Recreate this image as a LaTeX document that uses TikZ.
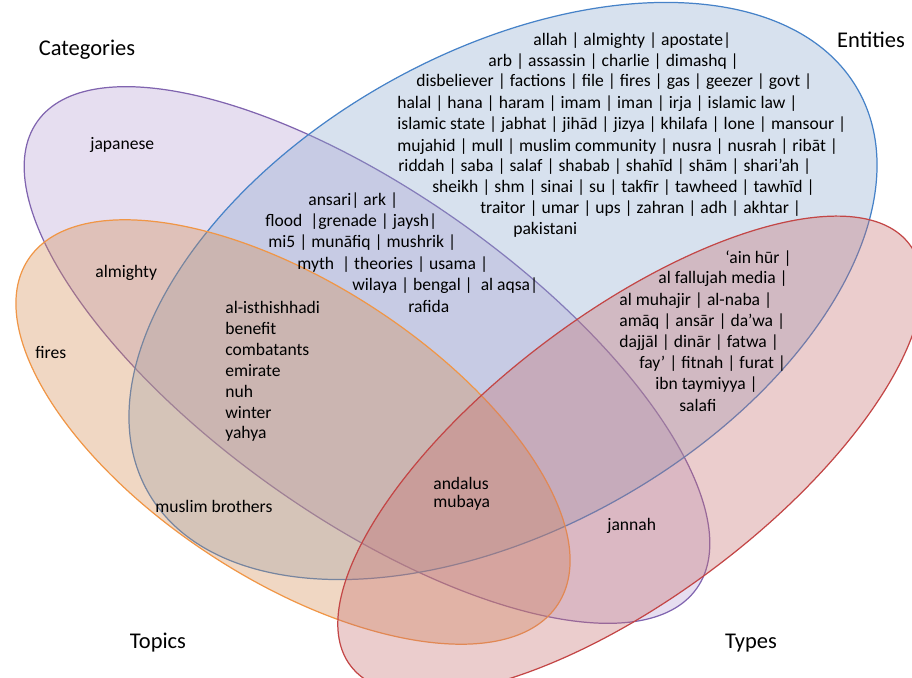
\documentclass[tikz,border=0pt]{standalone}
\usepackage{fontspec}
\setmainfont{Carlito}
\definecolor{catline}{RGB}{128,100,175}
\definecolor{catfill}{RGB}{184,161,212}
\definecolor{entline}{RGB}{70,130,200}
\definecolor{entfill}{RGB}{141,169,206}
\definecolor{topline}{RGB}{240,150,70}
\definecolor{topfill}{RGB}{212,141,84}
\definecolor{typline}{RGB}{195,70,70}
\definecolor{typfill}{RGB}{198,112,112}
\tikzset{
  setshape/.style={fill opacity=0.35,line width=0.7pt},
  term/.style={font=\fontsize{10}{12}\selectfont,inner sep=0pt,anchor=west},
  setname/.style={font=\fontsize{12.8}{15}\selectfont,inner sep=0pt}
}
\begin{document}
\begin{tikzpicture}[x=0.02cm,y=-0.02cm]
    \useasboundingbox (0,0) rectangle (912,678);
    % the four sets
    \draw[setshape,draw=catline,fill=catfill,rotate around={-35.3:(367,355)}] (367,355) ellipse [x radius=404,y radius=162];
    \draw[setshape,draw=entline,fill=entfill,rotate around={29.5:(503,291)}] (503,291) ellipse [x radius=408,y radius=238];
    \draw[setshape,draw=topline,fill=topfill,rotate around={-33:(293,432)}] (293,432) ellipse [x radius=316,y radius=148];
    \draw[setshape,draw=typline,fill=typfill,rotate around={37:(630,455)}] (630,455) ellipse [x radius=350,y radius=141];
    \node[setname] (catname) at (87,50) {Categories};
    \node[setname] (entname) at (871,40) {Entities};
    \node[setname] (topname) at (158,643) {Topics};
    \node[setname] (typname) at (751,643) {Types};
    % entities only
    \foreach \tx/\ty/\lbl [count=\i] in {
      533/41/{allah | almighty | apostate|},
      488/62/{arb | assassin | charlie | dimashq |},
      416/82/{disbeliever | factions | file | fires | gas | geezer | govt |},
      397/104/{halal | hana | haram | imam | iman | irja | islamic law |},
      397/125/{islamic state | jabhat | jihād | jizya | khilafa | lone | mansour |},
      397/147/{mujahid | mull | muslim community | nusra | nusrah | ribāt |},
      398/167/{riddah | saba | salaf | shabab | shahīd | shām | shari'ah |},
      432/188/{sheikh | shm | sinai | su | takfīr | tawheed | tawhīd |},
      480/209/{traitor | umar | ups | zahran | adh | akhtar |},
      513/230/{pakistani}} {
      \node[term] (E\i) at (\tx,\ty) {\lbl};
    }
    % categories and entities
    \foreach \tx/\ty/\lbl [count=\i] in {
      308/201/{ansari| ark |},
      265/222/{flood\ \ |grenade | jaysh|},
      268/243/{mi5 | munāfiq | mushrik |},
      297/265/{myth\ \ | theories | usama |},
      352/286/{wilaya | bengal |\ \ al aqsa|},
      408/306/{rafida}} {
      \node[term] (C\i) at (\tx,\ty) {\lbl};
    }
    % entities and types
    \foreach \tx/\ty/\lbl [count=\i] in {
      725/259/{‘ain hūr |},
      658/279/{al fallujah media |},
      619/301/{al muhajir | al-naba |},
      619/322/{amāq | ansār | da'wa |},
      619/343/{dajjāl | dinār | fatwa |},
      639/364/{fay' | fitnah | furat |},
      655/385/{ibn taymiyya |},
      679/405/{salafi}} {
      \node[term] (T\i) at (\tx,\ty) {\lbl};
    }
    % categories, entities and topics
    \foreach \lbl [count=\i] in {al-isthishhadi,benefit,combatants,emirate,nuh,winter,yahya} {
      \node[term] (M\i) at (225,307+21.2*\i-21.2) {\lbl};
    }
    \node[term] (japanese) at (90,145) {japanese};
    \node[term] (almighty) at (95,273) {almighty};
    \node[term] (fires) at (35,352) {fires};
    \node[term] (muslimbro) at (155,506) {muslim brothers};
    \node[term] (andalus) at (433,483) {andalus};
    \node[term] (mubaya) at (433,503) {mubaya};
    \node[term] (jannah) at (607,526) {jannah};
\end{tikzpicture}
\end{document}
